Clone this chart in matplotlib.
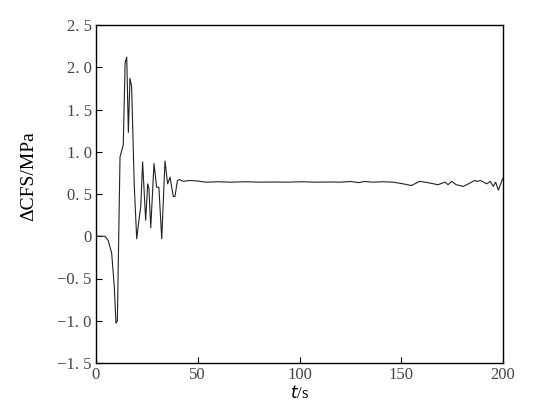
import matplotlib
matplotlib.use("Agg")
import matplotlib.pyplot as plt

t = [0, 2, 4.4, 6, 7.7, 9.0, 9.8, 10.5, 11.8, 13.4, 14.3, 15.1, 15.9, 16.7, 17.5,
     18.8, 20, 21.3, 22, 22.9, 24.4, 25.4, 26, 26.9, 28.5, 29.8, 30.9, 32.3, 33.9,
     35.2, 36.4, 37.2, 38, 38.8, 40, 41, 43, 46, 49.5, 54, 60, 66, 74, 80, 87, 94,
     101, 108, 115, 120, 125, 129, 132, 136, 141, 146, 151, 155, 159, 164, 168,
     171.5, 173, 174.8, 177, 180.5, 183, 186, 187.5, 189, 192, 193.7, 195.2, 196.4,
     197.7, 199.8]
cfs = [0, 0, 0, -0.05, -0.2, -0.6, -1.03, -1.0, 0.94, 1.08, 2.05, 2.12, 1.23, 1.87, 1.77,
       0.6, -0.03, 0.23, 0.35, 0.88, 0.19, 0.62, 0.57, 0.1, 0.86, 0.58, 0.58, -0.03, 0.89,
       0.62, 0.7, 0.58, 0.47, 0.47, 0.66, 0.67, 0.65, 0.66, 0.655, 0.64, 0.645, 0.64, 0.645,
       0.64, 0.642, 0.64, 0.645, 0.64, 0.642, 0.64, 0.648, 0.635, 0.648, 0.64, 0.645,
       0.64, 0.62, 0.60, 0.65, 0.63, 0.61, 0.64, 0.61, 0.65, 0.61, 0.59, 0.62, 0.66,
       0.65, 0.66, 0.62, 0.65, 0.59, 0.64, 0.545, 0.68]

xticks = [0, 50, 100, 150, 200]
xticklabels = ["0", "50", "100", "150", "200"]
yticks = [-1.5, -1.0, -0.5, 0, 0.5, 1.0, 1.5, 2.0, 2.5]
yticklabels = ["\u22121. 5", "\u22121. 0", "\u22120. 5", "0", "0. 5", "1. 0", "1. 5", "2. 0", "2. 5"]

plt.rcParams['font.family'] = ['Liberation Serif', 'DejaVu Serif']

fig = plt.figure(figsize=(5.54, 4.09), dpi=100)
ax = fig.add_axes([96/554, 1-363/409, 407/554, 338/409])
ax.plot(t, cfs, color='#222222', linewidth=0.8)
ax.set_xlim(0, 200)
ax.set_ylim(-1.5, 2.5)
ax.set_xticks(xticks)
ax.set_xticklabels(xticklabels, fontsize=12, color='#444444')
ax.set_yticks(yticks)
ax.set_yticklabels(yticklabels, fontsize=12, color='#444444')
ax.tick_params(direction='in', length=4, width=0.8, top=False, right=False, pad=3)
for s in ax.spines.values():
    s.set_linewidth(1.0)
ax.set_ylabel("\u0394CFS/MPa", fontsize=14)
ax.yaxis.set_label_coords(-0.145, 0.553)
ax.set_xlabel("$\\mathit{t}$/s", fontsize=12, labelpad=1)
fig.savefig("out.png", dpi=100)
